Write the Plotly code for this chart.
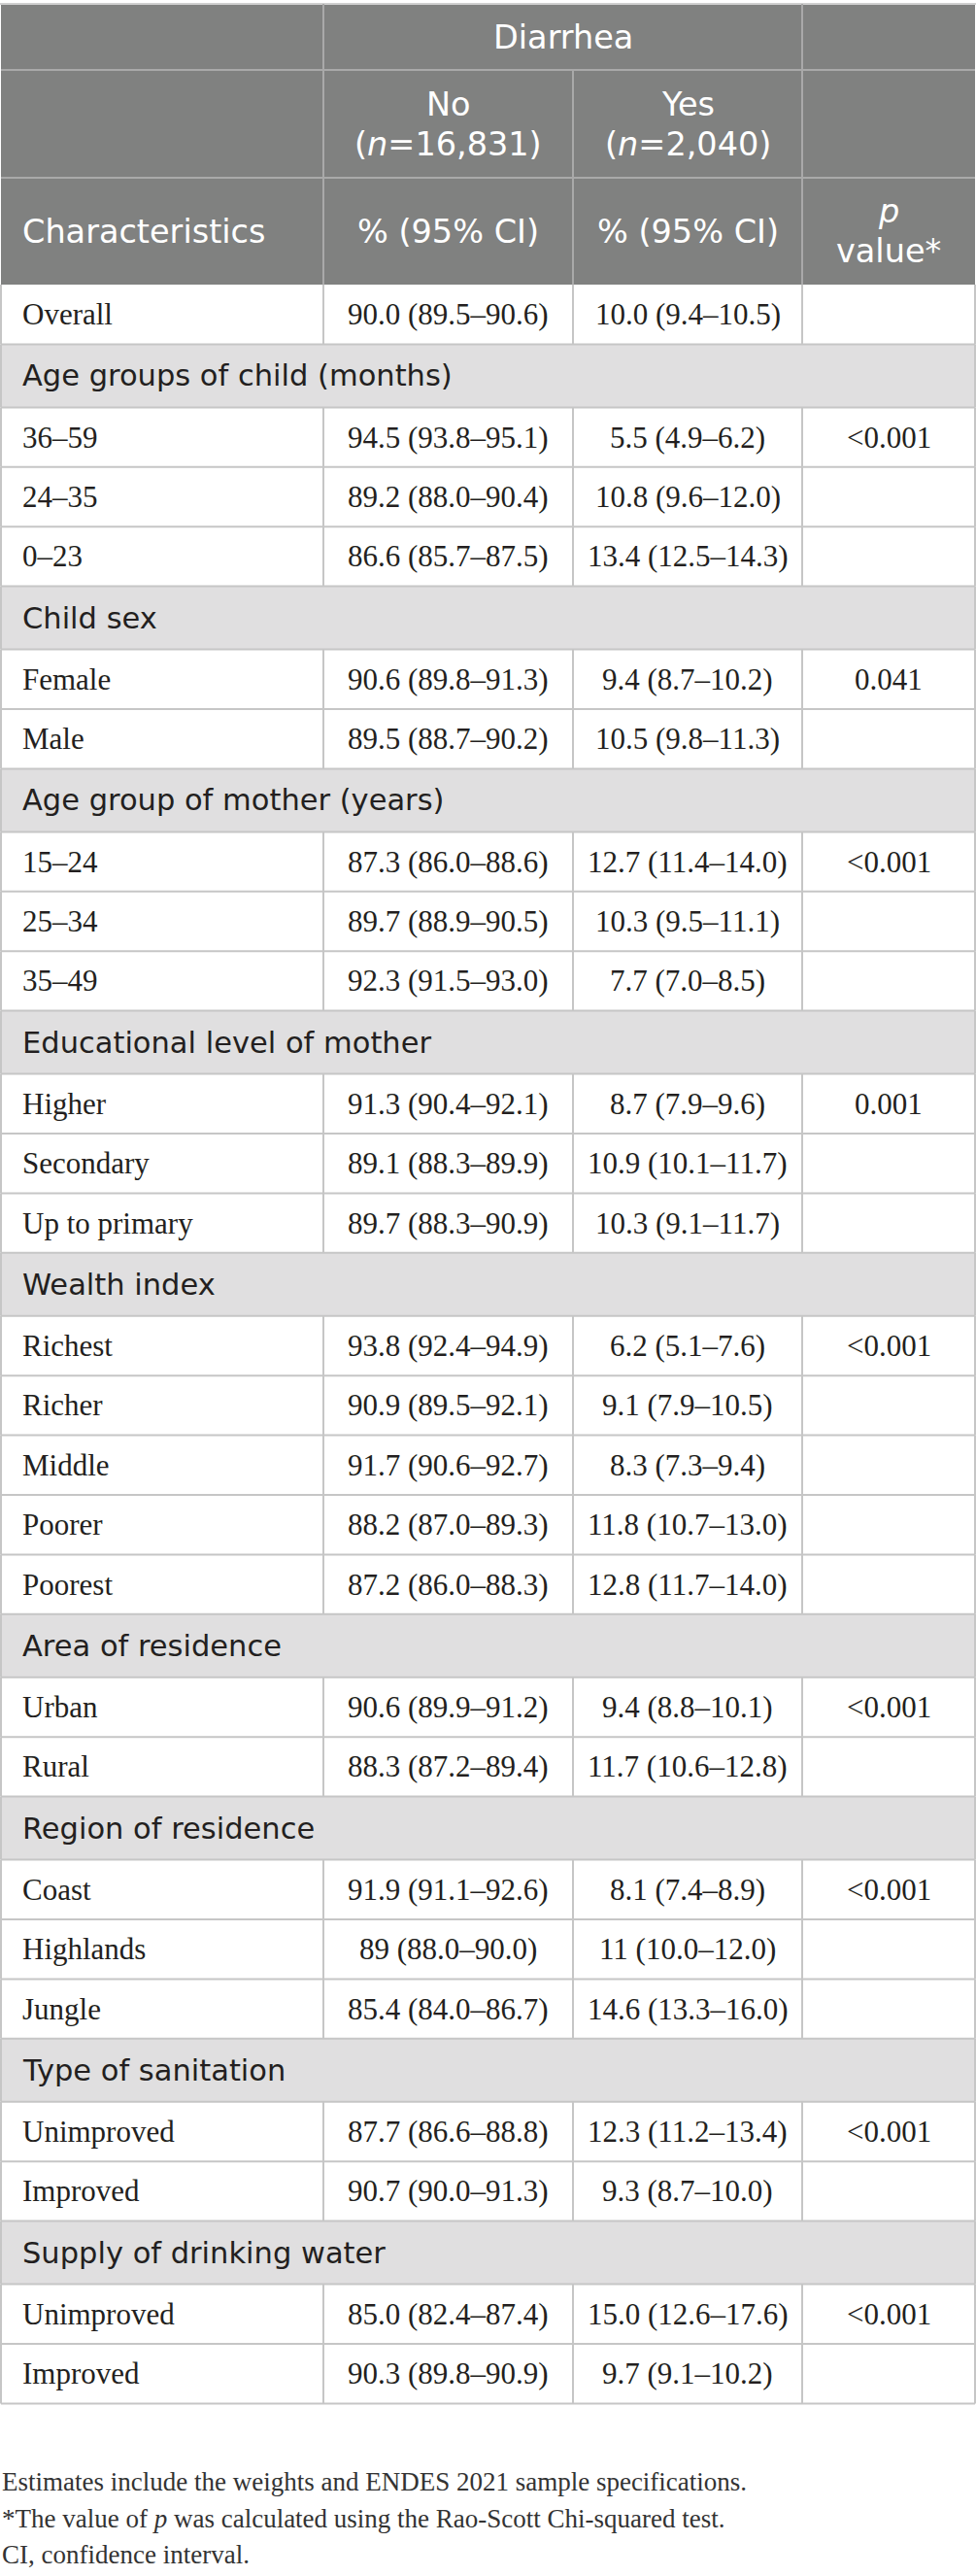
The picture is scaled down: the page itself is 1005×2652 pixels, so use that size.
import plotly.graph_objects as go

# table content
section_names = [
    "Age groups of child (months)",
    "Child sex",
    "Age group of mother (years)",
    "Educational level of mother",
    "Wealth index",
    "Area of residence",
    "Region of residence",
    "Type of sanitation",
    "Supply of drinking water",
]
section_sizes = [3, 2, 3, 3, 5, 2, 3, 2, 2]
row_labels = [
    "36–59", "24–35", "0–23",
    "Female", "Male",
    "15–24", "25–34", "35–49",
    "Higher", "Secondary", "Up to primary",
    "Richest", "Richer", "Middle", "Poorer", "Poorest",
    "Urban", "Rural",
    "Coast", "Highlands", "Jungle",
    "Unimproved", "Improved",
    "Unimproved", "Improved",
]
no_pct = [
    "94.5 (93.8–95.1)", "89.2 (88.0–90.4)", "86.6 (85.7–87.5)",
    "90.6 (89.8–91.3)", "89.5 (88.7–90.2)",
    "87.3 (86.0–88.6)", "89.7 (88.9–90.5)", "92.3 (91.5–93.0)",
    "91.3 (90.4–92.1)", "89.1 (88.3–89.9)", "89.7 (88.3–90.9)",
    "93.8 (92.4–94.9)", "90.9 (89.5–92.1)", "91.7 (90.6–92.7)", "88.2 (87.0–89.3)", "87.2 (86.0–88.3)",
    "90.6 (89.9–91.2)", "88.3 (87.2–89.4)",
    "91.9 (91.1–92.6)", "89 (88.0–90.0)", "85.4 (84.0–86.7)",
    "87.7 (86.6–88.8)", "90.7 (90.0–91.3)",
    "85.0 (82.4–87.4)", "90.3 (89.8–90.9)",
]
yes_pct = [
    "5.5 (4.9–6.2)", "10.8 (9.6–12.0)", "13.4 (12.5–14.3)",
    "9.4 (8.7–10.2)", "10.5 (9.8–11.3)",
    "12.7 (11.4–14.0)", "10.3 (9.5–11.1)", "7.7 (7.0–8.5)",
    "8.7 (7.9–9.6)", "10.9 (10.1–11.7)", "10.3 (9.1–11.7)",
    "6.2 (5.1–7.6)", "9.1 (7.9–10.5)", "8.3 (7.3–9.4)", "11.8 (10.7–13.0)", "12.8 (11.7–14.0)",
    "9.4 (8.8–10.1)", "11.7 (10.6–12.8)",
    "8.1 (7.4–8.9)", "11 (10.0–12.0)", "14.6 (13.3–16.0)",
    "12.3 (11.2–13.4)", "9.3 (8.7–10.0)",
    "15.0 (12.6–17.6)", "9.7 (9.1–10.2)",
]
p_values = [
    "<0.001", "", "",
    "0.041", "",
    "<0.001", "", "",
    "0.001", "", "",
    "<0.001", "", "", "", "",
    "<0.001", "",
    "<0.001", "", "",
    "<0.001", "",
    "<0.001", "",
]
overall_row = ["Overall", "90.0 (89.5–90.6)", "10.0 (9.4–10.5)", ""]
header_group = "Diarrhea"
header_sub = [["No", "(<i>n</i>=16,831)"], ["Yes", "(<i>n</i>=2,040)"]]
header_cols = [["Characteristics"], ["% (95% CI)"], ["% (95% CI)"], ["<i>p</i>", "value*"]]
notes = [
    "Estimates include the weights and ENDES 2021 sample specifications.",
    "*The value of <i>p</i> was calculated using the Rao-Scott Chi-squared test.",
    "CI, confidence interval.",
]

W, H = 1005, 2652
col_x = [1, 333, 590, 826, 1004]
head_y = [4, 72, 183, 293]
data_h = 61.4
sect_h = 65.0
pad = 21
line_gap = 41

HEAD_BG = "#808180"
HEAD_LINE = "#a9a9a9"
SECT_BG = "#e0dfe0"
LINE = "#c6c6c6"
TXT = "#231f20"
SANS = "DejaVu Sans"
SERIF = "Liberation Serif"
HEAD_SIZE = 33.5

fig = go.Figure()
shapes = []
ann = []


def rect(x0, y0, x1, y1, color):
    shapes.append(dict(type="rect", xref="x", yref="y", x0=x0, y0=y0, x1=x1, y1=y1,
                       fillcolor=color, line=dict(width=0), layer="below"))


def hline(x0, x1, y, color, w=2):
    shapes.append(dict(type="line", xref="x", yref="y", x0=x0, x1=x1, y0=y, y1=y,
                       line=dict(color=color, width=w)))


def vline(x, y0, y1, color, w=2):
    shapes.append(dict(type="line", xref="x", yref="y", x0=x, x1=x, y0=y0, y1=y1,
                       line=dict(color=color, width=w)))


def text(x, y, s, family, size, color, anchor="center"):
    ann.append(dict(x=x, y=y, xref="x", yref="y", text=s, showarrow=False,
                    xanchor=anchor, yanchor="middle", align=anchor,
                    font=dict(family=family, size=size, color=color)))


def head_text(x, yc, parts, anchor="center"):
    # stacked header lines, one annotation per line
    y0 = yc - line_gap * (len(parts) - 1) / 2
    for j, s in enumerate(parts):
        text(x, y0 + j * line_gap, s, SANS, HEAD_SIZE, "white", anchor)


def mid(i):
    return (col_x[i] + col_x[i + 1]) / 2


# header block
rect(col_x[0], head_y[0], col_x[-1], head_y[-1], HEAD_BG)
hline(0, W, head_y[0], "#d0d0d0", 2)
for y in head_y[1:3]:
    hline(col_x[0], col_x[-1], y, HEAD_LINE)
vline(col_x[1], head_y[0], head_y[-1], HEAD_LINE)
vline(col_x[3], head_y[0], head_y[-1], HEAD_LINE)
vline(col_x[2], head_y[1], head_y[-1], HEAD_LINE)

head_text((col_x[1] + col_x[3]) / 2, (head_y[0] + head_y[1]) / 2, [header_group])
for i, parts in enumerate(header_sub):
    head_text(mid(i + 1), (head_y[1] + head_y[2]) / 2, parts)
y_c = (head_y[2] + head_y[3]) / 2
head_text(col_x[0] + pad - 1, y_c, header_cols[0], "left")
for i in range(1, 4):
    head_text(mid(i), y_c, header_cols[i])


def data_row(y0, cells):
    y1 = y0 + data_h
    hline(col_x[0], col_x[-1], y1, LINE)
    for x in col_x:
        vline(x, y0, y1, LINE)
    yc = (y0 + y1) / 2
    text(col_x[0] + pad - 1, yc, cells[0], SERIF, 31, TXT, "left")
    for i in range(1, 4):
        if cells[i]:
            text(mid(i), yc, cells[i], SERIF, 31, TXT)
    return y1


y = head_y[-1]
y = data_row(y, overall_row)

k = 0
for name, n in zip(section_names, section_sizes):
    y1 = y + sect_h
    rect(col_x[0], y, col_x[-1], y1, SECT_BG)
    hline(col_x[0], col_x[-1], y1, LINE)
    vline(col_x[0], y, y1, LINE)
    vline(col_x[-1], y, y1, LINE)
    text(col_x[0] + pad - 1, (y + y1) / 2, name, SANS, 30.5, TXT, "left")
    y = y1
    for j in range(n):
        y = data_row(y, [row_labels[k], no_pct[k], yes_pct[k], p_values[k]])
        k += 1

# footnotes
note_y = [2555, 2593, 2630]
for s, ny in zip(notes, note_y):
    ann.append(dict(x=0, y=ny, xref="paper", yref="y", text=s, showarrow=False,
                    xanchor="left", yanchor="middle", align="left",
                    font=dict(family=SERIF, size=27, color="#333333")))

fig.update_layout(
    width=W, height=H,
    margin=dict(l=0, r=0, t=0, b=0),
    paper_bgcolor="white", plot_bgcolor="white",
    shapes=shapes, annotations=ann,
    xaxis=dict(range=[0, W], visible=False, fixedrange=True),
    yaxis=dict(range=[H, 0], visible=False, fixedrange=True),
    showlegend=False,
)

fig.write_html("out.html", config={"displayModeBar": False},
               post_script="document.body.style.margin='0';")
